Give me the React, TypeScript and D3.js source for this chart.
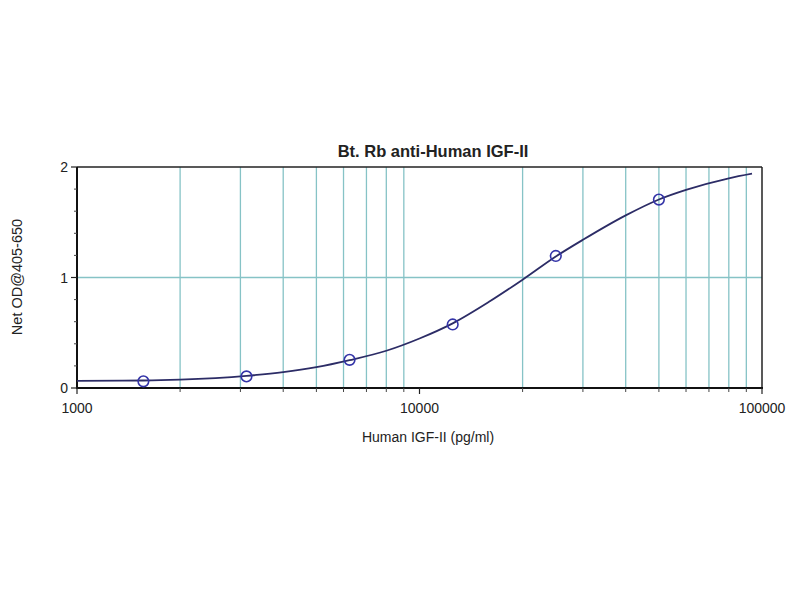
import React from "react";
import * as d3 from "d3";

const title = "Bt. Rb anti-Human IGF-II";
const xLabel = "Human IGF-II (pg/ml)";
const yLabel = "Net OD@405-650";

// Standard points (concentration pg/ml, OD)
const pointX = [1562.5, 3125, 6250, 12500, 25000, 50000];
const pointY = [0.06, 0.105, 0.255, 0.575, 1.195, 1.705];

// Fitted curve
const curveX = [1000, 1562.5, 2000, 3125, 4000, 5000, 6250, 8000, 10000, 12500, 16000, 20000, 25000, 30000, 40000, 50000, 60000, 80000, 93500];
const curveY = [0.065, 0.068, 0.076, 0.11, 0.143, 0.188, 0.252, 0.337, 0.448, 0.585, 0.782, 0.98, 1.19, 1.341, 1.562, 1.706, 1.793, 1.898, 1.94];

const xMajorTicks = [1000, 10000, 100000];
const xTickLabels = ["1000", "10000", "100000"];
const xGrid = [2000, 3000, 4000, 5000, 6000, 7000, 8000, 9000, 20000, 30000, 40000, 50000, 60000, 70000, 80000, 90000];
const yMajorTicks = [0, 1, 2];
const yMinorTicks = [0.2, 0.4, 0.6, 0.8, 1.2, 1.4, 1.6, 1.8];
const yGrid = [1];

export default function App() {
  const L = 77, R = 762, T = 167, B = 388;
  const x = d3.scaleLog().domain([1000, 100000]).range([L, R]);
  const y = d3.scaleLinear().domain([0, 2]).range([B, T]);
  const line = d3
    .line<number>()
    .x((_, i) => x(curveX[i]))
    .y((d) => y(d))
    .curve(d3.curveMonotoneX);
  const gridColor = "#86c3c6";
  const font = "'Liberation Sans', Arial, sans-serif";
  return (
    <svg
      width={800}
      height={600}
      style={{ position: "absolute", left: 0, top: 0, background: "#fff" }}
      fontFamily={font}
    >
      <rect x={0} y={0} width={800} height={600} fill="#fff" />
      {xGrid.map((v) => (
        <line key={"gx" + v} x1={x(v)} x2={x(v)} y1={T} y2={B} stroke={gridColor} strokeWidth={1.3} />
      ))}
      {yGrid.map((v) => (
        <line key={"gy" + v} x1={L} x2={R} y1={y(v)} y2={y(v)} stroke={gridColor} strokeWidth={1.5} />
      ))}
      {/* frame */}
      <line x1={L} x2={R} y1={T} y2={T} stroke="#222" strokeWidth={1.5} />
      <line x1={R} x2={R} y1={T} y2={B} stroke="#222" strokeWidth={1.5} />
      <line x1={L} x2={R + 1} y1={B} y2={B} stroke="#111" strokeWidth={2} />
      <line x1={L} x2={L} y1={T} y2={B + 1} stroke="#111" strokeWidth={2} />
      {/* x ticks */}
      {xMajorTicks.map((v) => (
        <line key={"xt" + v} x1={x(v)} x2={x(v)} y1={B} y2={B + 6} stroke="#222" strokeWidth={1.2} />
      ))}
      {xGrid.map((v) => (
        <line key={"xm" + v} x1={x(v)} x2={x(v)} y1={B} y2={B + 4} stroke="#444" strokeWidth={1} />
      ))}
      {xMajorTicks.map((v, i) => (
        <text key={"xl" + v} x={x(v)} y={B + 25} textAnchor="middle" fontSize={14} fill="#222">
          {xTickLabels[i]}
        </text>
      ))}
      {/* y ticks */}
      {yMajorTicks.map((v) => (
        <line key={"yt" + v} x1={L - 6} x2={L} y1={y(v)} y2={y(v)} stroke="#222" strokeWidth={1.2} />
      ))}
      {yMinorTicks.map((v) => (
        <line key={"ym" + v} x1={L - 3} x2={L} y1={y(v)} y2={y(v)} stroke="#444" strokeWidth={1} />
      ))}
      {yMajorTicks.map((v) => (
        <text key={"yl" + v} x={L - 9} y={y(v) + 5} textAnchor="end" fontSize={14} fill="#222">
          {v}
        </text>
      ))}
      {/* curve */}
      <path d={line(curveY) || ""} fill="none" stroke="#2c2c66" strokeWidth={1.8} />
      {pointX.map((v, i) => (
        <circle key={"p" + v} cx={x(v)} cy={y(pointY[i])} r={5.3} fill="none" stroke="#3434a8" strokeWidth={1.6} />
      ))}
      {/* titles */}
      <text x={433} y={157} textAnchor="middle" fontSize={16.5} fontWeight="bold" fill="#222">
        {title}
      </text>
      <text x={428} y={442} textAnchor="middle" fontSize={14} fill="#222">
        {xLabel}
      </text>
      <text
        transform={`translate(22, 277) rotate(-90)`}
        textAnchor="middle"
        fontSize={14.5}
        fill="#222"
      >
        {yLabel}
      </text>
    </svg>
  );
}
